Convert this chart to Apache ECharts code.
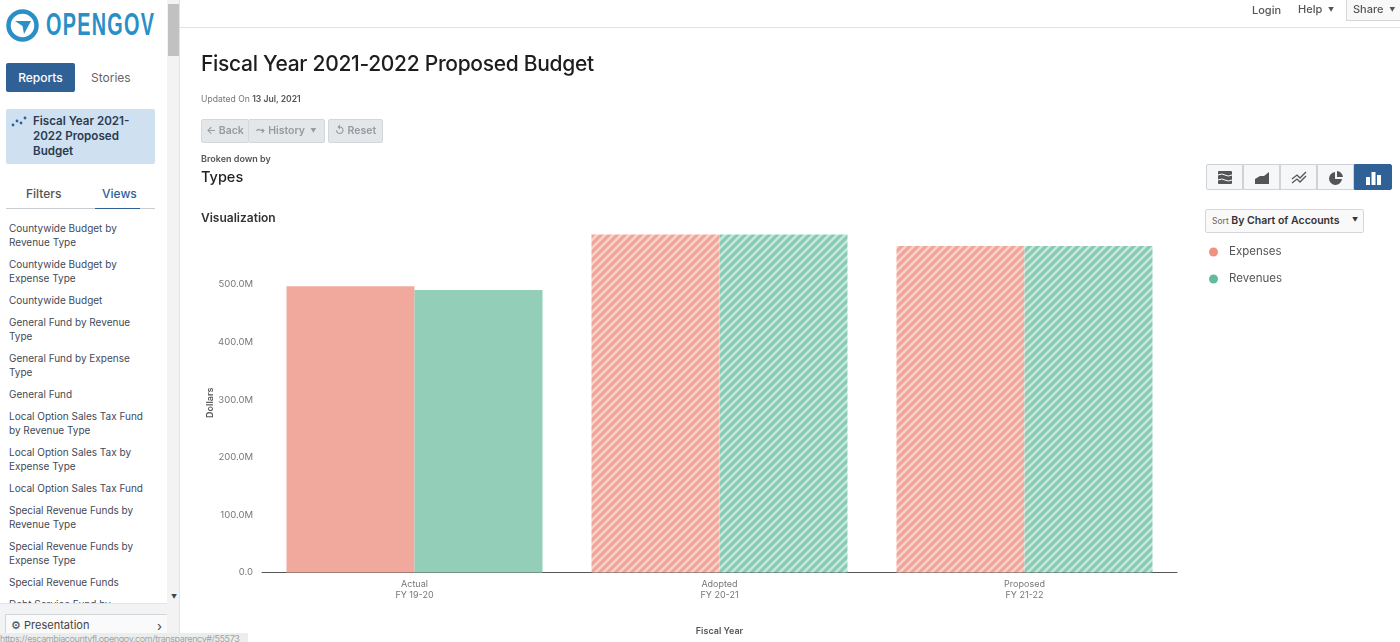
<!DOCTYPE html>
<html lang="en">
<head>
<meta charset="utf-8">
<title>Fiscal Year 2021-2022 Proposed Budget</title>
<script src="https://cdn.jsdelivr.net/npm/echarts@6/dist/echarts.min.js"></script>
<style>
    html, body { margin: 0; padding: 0; width: 1400px; height: 642px; overflow: hidden; background: #fff; }
    body { font-family: "Inter", "Liberation Sans", sans-serif; color: #333; }
    #chart { position: absolute; left: 0; top: 0; width: 1400px; height: 642px; }
    .abs { position: absolute; white-space: nowrap; }
    .btn { position: absolute; box-sizing: border-box; background: #e4e7ea; border: 1px solid #d5d8db; border-radius: 2px; color: #979a9e; font-size: 10.5px; font-weight: 600; line-height: 21px; text-align: center; }
    #sidebar { position: absolute; left: 0; top: 0; width: 167px; height: 642px; background: #fff; overflow: hidden; }
    #views { position: absolute; left: 9px; top: 221px; font-size: 10px; line-height: 14px; color: #3f4a57; }
    #views div { margin-bottom: 8px; white-space: nowrap; }
    .vis { position: absolute; top: 164px; height: 26px; width: 37px; box-sizing: border-box; background: #f6f7f8; border: 1px solid #cfd3d7; }
    .vis svg { position: absolute; left: 10px; top: 5px; }
    .caret { font-size: 6px; vertical-align: 1px; }
</style>
</head>
<body>
<div id="chart"></div>

<!-- sidebar -->
<div id="sidebar">
    <svg class="abs" style="left:6px;top:9px" width="34" height="34" viewBox="0 0 34 34">
        <circle cx="16.5" cy="16.5" r="14" fill="none" stroke="#2a8fc7" stroke-width="4.5"/>
        <path d="M9 12 L25 12 L18 25 L16.5 17 Z" fill="#2a8fc7"/>
    </svg>
    <div class="abs" style="left:46px;top:8px;font:bold 31px 'Liberation Sans';line-height:34px;color:#2a8fc7;letter-spacing:2px;transform-origin:0 0;transform:scaleX(.64)">OPENGOV</div>
    <div class="abs" style="left:6px;top:63px;width:69px;height:29px;background:#2f6196;border-radius:2px;color:#fff;font-size:12px;font-weight:500;line-height:29px;text-align:center">Reports</div>
    <div class="abs" style="left:91px;top:70px;font-size:12px;color:#666">Stories</div>
    <div class="abs" style="left:6px;top:109px;width:149px;height:55px;background:#cfe0f1;border-radius:2px"></div>
    <svg class="abs" style="left:11px;top:114px" width="16" height="16">
        <circle cx="2" cy="11" r="1.4" fill="#2f6196"/><circle cx="6" cy="7" r="1.4" fill="#2f6196"/><circle cx="10" cy="9" r="1.4" fill="#2f6196"/><circle cx="14" cy="4" r="1.4" fill="#2f6196"/>
    </svg>
    <div class="abs" style="left:33px;top:114px;font-size:11.6px;font-weight:600;line-height:15px;color:#2a3b4f" id="activeReport"></div>
    <div class="abs" style="left:26px;top:186px;font-size:12px;font-weight:500;color:#555">Filters</div>
    <div class="abs" style="left:102px;top:186px;font-size:12px;font-weight:500;color:#2f6196">Views</div>
    <div class="abs" style="left:6px;top:208px;width:149px;height:1px;background:#c9ced3"></div>
    <div class="abs" style="left:95px;top:208px;width:45px;height:1px;background:#2f6196"></div>
    <div id="views"></div>
    <div class="abs" style="left:0;top:603px;width:180px;height:39px;background:#f2f3f5;border-top:1px solid #e2e4e6;box-sizing:border-box"></div>
    <div class="abs" style="left:5px;top:614px;width:163px;height:23px;background:#fafafa;border:1px solid #d4d7da;box-sizing:border-box;font-size:11px;line-height:21px;color:#444;padding-left:5px">⚙ Presentation</div>
    <div class="abs" style="left:157px;top:618px;font-size:13px;color:#444">›</div>
</div>
<div class="abs" style="left:167px;top:0;width:13px;height:642px;background:#f3f3f3;border-right:1px solid #e3e3e3;box-sizing:border-box"></div>
<div class="abs" style="left:168px;top:4px;width:11px;height:52px;background:#c1c1c1"></div>
<div class="abs" style="left:171px;top:593px;font-size:6px;color:#444">▼</div>
<div class="abs" style="left:0;top:633px;width:248px;height:9px;background:#eceded;font-size:9px;letter-spacing:-0.4px;line-height:11px;color:#a2a2a2;overflow:hidden">https://escambiacountyfl.opengov.com/transparency#/55573</div>

<!-- top bar -->
<div class="abs" style="left:180px;top:27px;width:1220px;height:1px;background:#e0e2e4"></div>
<div class="abs" style="left:1252px;top:3px;font-size:11px;font-weight:500;color:#555">Login</div>
<div class="abs" style="left:1298px;top:2px;font-size:11px;font-weight:500;color:#555">Help &nbsp;<span class="caret">▼</span></div>
<div class="abs" style="left:1346px;top:-1px;width:60px;height:22px;background:#f8f8f8;border:1px solid #d5d8db;box-sizing:border-box;font-size:11px;font-weight:500;line-height:19px;color:#555;padding-left:6px">Share &nbsp;<span class="caret">▼</span></div>

<!-- report header -->
<div class="abs" id="title" style="left:201px;top:51px;font-size:21px;font-weight:500;letter-spacing:-0.3px;color:#1d1d1d"></div>
<div class="abs" style="left:201px;top:94px;font-size:8.6px;color:#777">Updated On <b style="color:#555;font-weight:600">13 Jul, 2021</b></div>
<div class="btn" style="left:201px;top:119px;width:48px;height:24px">← Back</div>
<div class="btn" style="left:248px;top:119px;width:77px;height:24px">⤳ History &nbsp;<span class="caret">▼</span></div>
<div class="btn" style="left:328px;top:119px;width:55px;height:24px">↺ Reset</div>
<div class="abs" style="left:201px;top:153px;font-size:9px;font-weight:600;color:#555">Broken down by</div>
<div class="abs" style="left:201px;top:168px;font-size:14.5px;font-weight:500;color:#222">Types</div>
<div class="abs" style="left:201px;top:210px;font-size:12px;font-weight:600;color:#333">Visualization</div>

<!-- chart type switch -->
<div class="vis" style="left:1206px;border-radius:2px 0 0 2px"><svg width="16" height="15"><rect x="1" y="1" width="14" height="13" rx="1" fill="#555"/><path d="M1 5 Q5 3 8 5 T15 5 M1 10 Q5 8 8 10 T15 10" stroke="#fff" fill="none"/></svg></div>
<div class="vis" style="left:1243px"><svg width="16" height="15"><path d="M1 9 L6 6 L10 6 L15 2 L15 14 L1 14 Z" fill="#555"/></svg></div>
<div class="vis" style="left:1280px"><svg width="16" height="15"><path d="M1 9 L6 5 L9 8 L15 2 M1 13 L6 9 L9 12 L15 6" stroke="#555" stroke-width="1.3" fill="none"/></svg></div>
<div class="vis" style="left:1317px"><svg width="16" height="15"><path d="M7 2 A6.5 6.5 0 1 0 14 9 L7 9 Z M9 1 L9 7 L15 7 A6.5 6.5 0 0 0 9 1 Z" fill="#555"/></svg></div>
<div class="vis" style="left:1354px;width:38px;background:#2f6196;border-color:#2f6196;border-radius:0 2px 2px 0"><svg width="16" height="15"><path d="M1 7 H5 V15 H1 Z M6.500 2 H10.500 V15 H6.500 Z M12 5 H16 V15 H12 Z" fill="#fff"/></svg></div>

<div class="abs" style="left:1205px;top:209px;width:159px;height:24px;background:#f9f9f9;border:1px solid #d5d8db;border-radius:2px;box-sizing:border-box;font-size:10.5px;line-height:22px;font-weight:600;color:#333;padding-left:6px"><span style="font-size:8.5px;font-weight:400;color:#666">Sort</span> By Chart of Accounts</div>
<div class="abs" style="left:1352px;top:216px;font-size:6px;color:#333">▼</div>

<script>
    const categories = ['Actual\nFY 19-20', 'Adopted\nFY 20-21', 'Proposed\nFY 21-22'];
    const expenses = [497, 587, 567];
    const revenues = [490.5, 587, 567];
    // actual years are solid, the budget years are hatched
    const hatched = [false, true, true];
    const viewNames = [
        'Countywide Budget by\nRevenue Type', 'Countywide Budget by\nExpense Type', 'Countywide Budget',
        'General Fund by Revenue\nType', 'General Fund by Expense\nType', 'General Fund',
        'Local Option Sales Tax Fund\nby Revenue Type', 'Local Option Sales Tax by\nExpense Type', 'Local Option Sales Tax Fund',
        'Special Revenue Funds by\nRevenue Type', 'Special Revenue Funds by\nExpense Type', 'Special Revenue Funds',
        'Debt Service Fund by\nRevenue Type'
    ];

    document.getElementById('title').textContent = 'Fiscal Year 2021-2022 Proposed Budget';
    document.getElementById('activeReport').innerHTML = 'Fiscal Year 2021-<br>2022 Proposed<br>Budget';
    document.getElementById('views').innerHTML = viewNames
        .map(n => '<div>' + n.replace('\n', '<br>') + '</div>').join('');

    // 8px tile with "/" stripes, used as a repeating bar fill
    function stripeTile(base, light) {
        const c = document.createElement('canvas');
        c.width = 8;
        c.height = 8;
        const ctx = c.getContext('2d');
        ctx.fillStyle = base;
        ctx.fillRect(0, 0, 8, 8);
        ctx.strokeStyle = light;
        ctx.lineWidth = 2.4;
        [-8, 0, 8].forEach(d => {
            ctx.beginPath();
            ctx.moveTo(d - 1, 9);
            ctx.lineTo(d + 9, -1);
            ctx.stroke();
        });
        return { image: c, repeat: 'repeat' };
    }

    function barData(values, base, light) {
        const fill = stripeTile(base, light);
        return values.map((v, i) => ({
            value: v,
            itemStyle: hatched[i] ? { color: fill } : {}
        }));
    }

    const myChart = echarts.init(document.getElementById('chart'), null, { renderer: 'canvas' });
    myChart.setOption({
        animation: false,
        backgroundColor: 'transparent',
        textStyle: { fontFamily: 'Inter, Liberation Sans, sans-serif' },
        grid: { left: 262, right: 223, top: 226.9, bottom: 69.5 },
        legend: {
            orient: 'vertical',
            left: 1204,
            top: 240,
            icon: 'circle',
            itemWidth: 9,
            itemHeight: 9,
            itemGap: 13,
            textStyle: { color: '#555', fontSize: 11.5, lineHeight: 14, padding: [0, 0, 0, 6] },
            data: [
                { name: 'Expenses', itemStyle: { color: '#f0917f' } },
                { name: 'Revenues', itemStyle: { color: '#62bb9d' } }
            ]
        },
        xAxis: {
            type: 'category',
            data: categories,
            name: 'Fiscal Year',
            nameLocation: 'middle',
            nameGap: 54,
            nameMoveOverlap: false,
            nameTextStyle: { color: '#555', fontSize: 9, fontWeight: 600 },
            axisLine: { lineStyle: { color: '#555', width: 1 } },
            axisTick: { show: false },
            axisLabel: { color: '#777', fontSize: 9, lineHeight: 11, margin: 6 }
        },
        yAxis: {
            type: 'value',
            min: 0,
            max: 600,
            interval: 100,
            name: 'Dollars',
            nameLocation: 'middle',
            nameGap: 47,
            nameMoveOverlap: false,
            nameTextStyle: { color: '#555', fontSize: 9, fontWeight: 600, padding: [0, 6, 0, 0] },
            axisLine: { show: false },
            axisTick: { show: false },
            splitLine: { show: false },
            axisLabel: {
                color: '#777',
                fontSize: 9.5,
                margin: 9,
                formatter: v => (v === 600 ? '' : v === 0 ? '0.0' : v.toFixed(1) + 'M')
            }
        },
        series: [
            { name: 'Expenses', type: 'bar', barWidth: 128, barGap: 0, itemStyle: { color: '#f0a99c' }, data: barData(expenses, '#f2a498', '#f9d2cb') },
            { name: 'Revenues', type: 'bar', barWidth: 128, barGap: 0, itemStyle: { color: '#93ceb9' }, data: barData(revenues, '#86cbb3', '#c8e8dc') }
        ]
    });
</script>
</body>
</html>
